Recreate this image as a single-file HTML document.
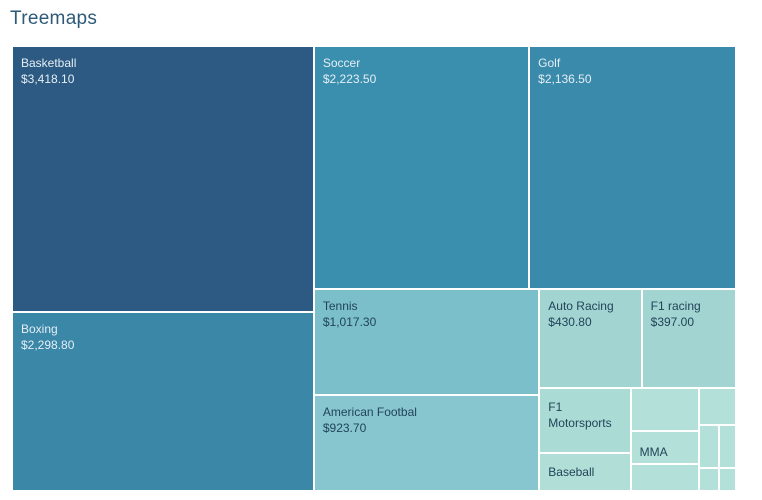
<!DOCTYPE html>
<html><head><meta charset="utf-8"><style>
body{margin:0;background:#fff;width:762px;height:500px;overflow:hidden;font-family:"Liberation Sans",sans-serif}
#title{position:absolute;left:10px;top:8px;font-size:19px;color:#2d5a78;letter-spacing:0.3px}
.cell{position:absolute;box-sizing:border-box;border:1px solid #fff;overflow:hidden}
.lbl{position:absolute;left:8px;top:8px;font-size:12px;line-height:16px}
</style></head><body>
<div id="title">Treemaps</div>
<div id="chart"></div>
<script>
const names=["Basketball","Boxing","Soccer","Golf","Tennis","American Footbal","Auto Racing","F1 racing","F1\nMotorsports","Baseball","","MMA","","","","","",""];
const values=[3418.1,2298.8,2223.5,2136.5,1017.3,923.7,430.8,397.0,254,148,125,96,79,60,36,31,20,17];
const showValue=[1,1,1,1,1,1,1,1,0,0,0,0,0,0,0,0,0,0];
const colors=["#2d5a82","#3a87a8","#3a8fae","#3a8aab","#7bbfca","#87c6cf","#a2d4d1","#a2d4d1","#abdbd5","#b1ded7","#b3e0d8","#b3e0d8","#b3e0d8","#b3e0d8","#b3e0d8","#b3e0d8","#b3e0d8","#b3e0d8"];
const dark=[1,1,1,1,0,0,0,0,0,0,0,0,0,0,0,0,0,0];
// layout tree: ['h'|'v', children] or leaf index
const tree=['h',[['v',[0,1]],['v',[['h',[2,3]],['h',[['v',[4,5]],['v',[['h',[6,7]],['h',[['v',[8,9]],['v',[10,11,12]],['v',[13,['h',[14,15]],['h',[16,17]]]]]]]]]]]]]];
function sum(n){return typeof n==='number'?values[n]:n[1].reduce((a,c)=>a+sum(c),0);}
const chart=document.getElementById('chart');
function fmt(v){return '$'+v.toLocaleString('en-US',{minimumFractionDigits:2,maximumFractionDigits:2});}
function layout(n,x,y,w,h){
  if(typeof n==='number'){
    const d=document.createElement('div');
    d.className='cell';
    
    
    d.style.cssText=`left:${x}px;top:${y}px;width:${w}px;height:${h}px;background:${colors[n]}`;
    if(names[n]){
      const l=document.createElement('div');l.className='lbl';
      
      
      l.style.color=dark[n]?'#e4eef4':'#22445a';
      if(!showValue[n]&&names[n]!=='MMA'||names[n]==='MMA'){l.style.top=(names[n]==='MMA'?12:10)+'px';}
      l.innerHTML=names[n].replace('\n','<br>')+(showValue[n]?'<br>'+fmt(values[n]):'');
      d.appendChild(l);
    }
    chart.appendChild(d);return;
  }
  const tot=sum(n);let off=0;
  n[1].forEach(c=>{const f=sum(c)/tot;
    if(n[0]==='h'){const cw=w*f;layout(c,x+off,y,cw,h);off+=cw;}
    else{const ch=h*f;layout(c,x,y+off,w,ch);off+=ch;}
  });
}
layout(tree,12,46,724,445);
</script>
</body></html>
